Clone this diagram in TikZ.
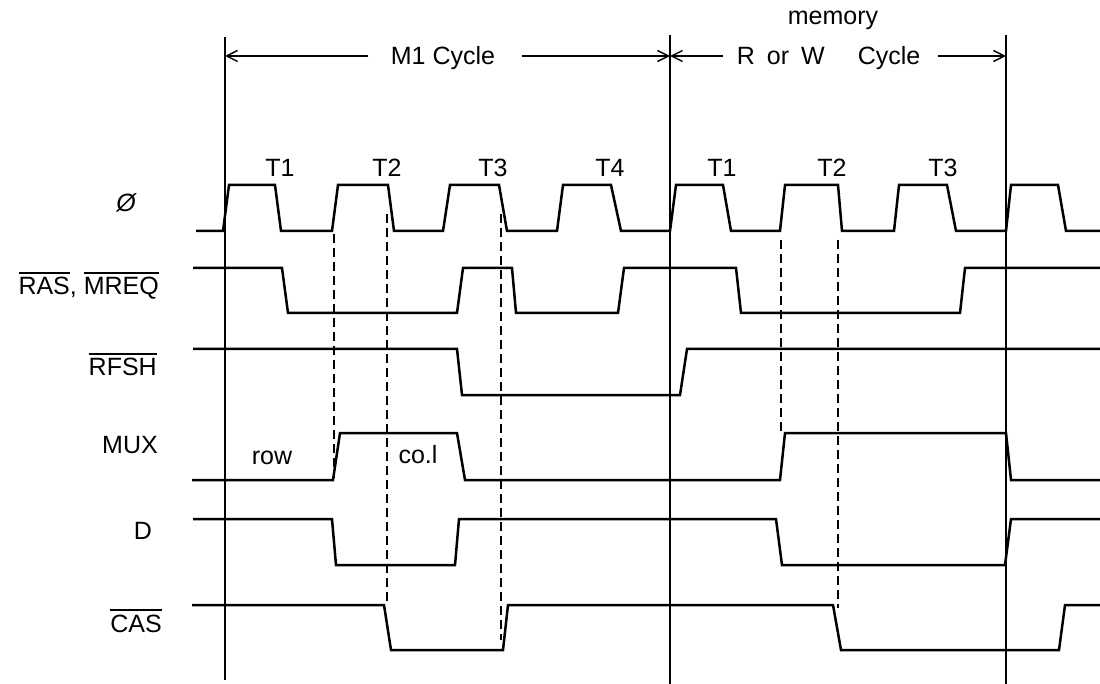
\documentclass[tikz,border=0pt]{standalone}
\usepackage{fontspec}
\setmainfont{Liberation Sans}
\usetikzlibrary{arrows.meta}
\newcommand\ovl[1]{\leavevmode\vbox{\hrule height 1.6pt\kern 3.5pt\hbox{#1}}}
\begin{document}
\begin{tikzpicture}[x=1pt,y=-1pt,
  wave/.style={line width=2.5pt},
  vline/.style={line width=1.3pt},
  dline/.style={line width=1.3pt, dash pattern=on 9pt off 5pt},
  lbl/.style={inner sep=0pt, font=\fontsize{25}{30}\selectfont, anchor=base},
  arr/.style={line width=1.4pt, -{Straight Barb[length=11pt,width=11pt,line width=1.4pt]}}]
\useasboundingbox (0,0) rectangle (1100,684);

% vertical cycle boundaries
\coordinate (v1t) at (225,37);  \coordinate (v1b) at (225,680);
\coordinate (v2t) at (670,35);  \coordinate (v2b) at (670,684);
\coordinate (v3t) at (1006,35); \coordinate (v3b) at (1006,684);
\draw[vline] (v1t) -- (v1b);
\draw[vline] (v2t) -- (v2b);
\draw[vline] (v3t) -- (v3b);

% cycle arrows
\coordinate (a1s) at (368,56); \coordinate (a1e) at (225,56);
\coordinate (a2s) at (522,56); \coordinate (a2e) at (670,56);
\coordinate (a3s) at (723,56); \coordinate (a3e) at (670,56);
\coordinate (a4s) at (938,56); \coordinate (a4e) at (1006,56);
\draw[arr] (a1s) -- (a1e);
\draw[arr] (a2s) -- (a2e);
\draw[arr] (a3s) -- (a3e);
\draw[arr] (a4s) -- (a4e);

\node[lbl] (m1) at (443,65) {M1 Cycle};
\node[lbl] (mem) at (833,25) {memory};
\node[lbl] (rr) at (746,65) {R};
\node[lbl] (ror) at (778,65) {or};
\node[lbl] (rw) at (813,65) {W};
\node[lbl] (rcyc) at (889,65) {Cycle};

% T labels
\node[lbl] (t1) at (280,177) {T1};
\node[lbl] (t2) at (387,177) {T2};
\node[lbl] (t3) at (493,177) {T3};
\node[lbl] (t4) at (610,177) {T4};
\node[lbl] (t1b) at (722,177) {T1};
\node[lbl] (t2b) at (832,177) {T2};
\node[lbl] (t3b) at (943,177) {T3};

% signal labels
\node[lbl] (lphi) at (126,212) {\itshape Ø};
\node[lbl, anchor=base east] (lras) at (159,295) {\ovl{RAS}, \ovl{MREQ}};
\node[lbl, anchor=base east] (lrfsh) at (157,376) {\ovl{RFSH}};
\node[lbl, anchor=base east] (lmux) at (158,453) {MUX};
\node[lbl] (ld) at (143,539) {D};
\node[lbl, anchor=base east] (lcas) at (162,632) {\ovl{CAS}};
\node[lbl] (lrow) at (272,464) {row};
\node[lbl] (lcol) at (418,463) {co.l};

% clock
\draw[wave] (196,231) -- (223,231) -- (229,185) -- (275,185) -- (281,231)
  -- (332,231) -- (338,185) -- (388,185) -- (394,231)
  -- (443,231) -- (450,185) -- (499,185) -- (507,231)
  -- (557,231) -- (563,185) -- (611,185) -- (621,231)
  -- (670,231) -- (676,185) -- (723,185) -- (731,231)
  -- (780,231) -- (785,185) -- (838,185) -- (842,231)
  -- (894,231) -- (899,185) -- (947,185) -- (956,231)
  -- (1006,231) -- (1011,185) -- (1058,185) -- (1066,231) -- (1100,231);

% RAS, MREQ
\draw[wave] (193,268) -- (282,268) -- (288,313) -- (457,313) -- (463,268)
  -- (512,268) -- (516,313) -- (618,313) -- (624,268) -- (736,268)
  -- (741,313) -- (960,313) -- (965,268) -- (1100,268);

% RFSH
\draw[wave] (193,349) -- (457,349) -- (462,395) -- (680,395) -- (687,349) -- (1100,349);

% MUX
\draw[wave] (192,480) -- (333,480) -- (340,433) -- (457,433) -- (465,480)
  -- (780,480) -- (785,433) -- (1006,433) -- (1011,480) -- (1100,480);

% D
\draw[wave] (193,519) -- (332,519) -- (336,565) -- (455,565) -- (459,519)
  -- (776,519) -- (782,565) -- (1005,565) -- (1011,519) -- (1100,519);

% CAS
\draw[wave] (192,605) -- (384,605) -- (391,650) -- (503,650) -- (508,605)
  -- (833,605) -- (841,650) -- (1059,650) -- (1065,605) -- (1100,605);

% dashed timing references
\coordinate (d1t) at (334,234); \coordinate (d1b) at (334,478);
\coordinate (d2t) at (387,214); \coordinate (d2b) at (387,605);
\coordinate (d3t) at (501,214); \coordinate (d3b) at (501,640);
\coordinate (d4t) at (781,240); \coordinate (d4b) at (781,435);
\coordinate (d5t) at (838,240); \coordinate (d5b) at (838,608);
\draw[dline] (d1t) -- (d1b);
\draw[dline] (d2t) -- (d2b);
\draw[dline] (d3t) -- (d3b);
\draw[dline] (d4t) -- (d4b);
\draw[dline] (d5t) -- (d5b);
\end{tikzpicture}
\end{document}
